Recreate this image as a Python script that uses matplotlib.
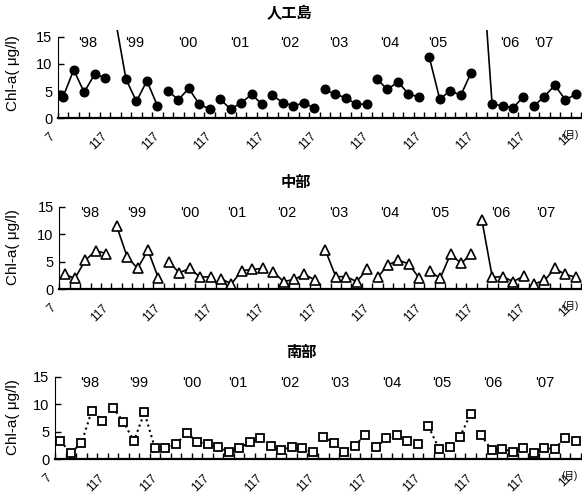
import numpy as np
import matplotlib.pyplot as plt

plt.rcParams['font.family'] = ['Liberation Sans', 'Noto Sans CJK JP', 'DejaVu Sans']

# sampling slots: 10 survey years x 5 samples, plotted at category centres
slots = np.arange(50) + 0.5
survey = np.repeat(np.arange(10), 5)

# 人工島 (one extra early sample at the very start; two blooms run off scale)
island_x = np.r_[0.2, slots]
island_grp = np.r_[0, survey]
island = [4.3,
          4.0, 8.9, 4.8, 8.1, 7.5,
          18.0, 7.2, 3.1, 6.9, 2.3,
          5.1, 3.4, 5.5, 2.6, 1.7,
          3.5, 1.7, 2.8, 4.4, 2.6,
          4.2, 2.9, 2.3, 2.8, 1.9,
          5.3, 4.4, 3.8, 2.6, 2.6,
          7.2, 5.3, 6.7, 4.5, 3.9,
          11.2, 3.5, 5.1, 4.2, 8.4,
          30.0, 2.6, 2.3, 1.9, 4.0,
          2.3, 4.0, 6.1, 3.4, 4.4]

# 中部
middle = [2.7, 2.0, 5.3, 7.0, 6.5,
          11.5, 5.9, 3.8, 7.1, 2.0,
          5.0, 3.0, 3.8, 2.2, 2.3,
          1.9, 1.0, 3.4, 3.6, 3.8,
          3.2, 1.4, 1.8, 2.7, 1.7,
          7.1, 2.3, 2.3, 1.4, 3.6,
          2.2, 4.4, 5.3, 4.6, 2.0,
          3.3, 2.0, 6.4, 4.7, 6.4,
          12.6, 2.2, 2.3, 1.4, 2.4,
          1.0, 1.6, 3.8, 2.7, 2.2]

# 南部
south = [3.3, 1.2, 2.9, 8.8, 7.0,
         9.4, 6.8, 3.3, 8.5, 2.0,
         2.0, 2.7, 4.8, 3.2, 2.7,
         2.2, 1.4, 2.0, 3.1, 3.8,
         2.5, 1.7, 2.2, 2.0, 1.3,
         4.1, 3.0, 1.3, 2.5, 4.4,
         2.2, 3.8, 4.4, 3.3, 2.7,
         6.0, 1.9, 2.2, 4.1, 8.2,
         4.4, 1.7, 1.9, 1.4, 2.0,
         1.1, 2.0, 1.9, 3.9, 3.3]

years = ["'98", "'99", "'00", "'01", "'02", "'03", "'04", "'05", "'06", "'07"]
month_labels = ['7'] + ['117'] * 9 + ['11']
month_label_pos = [-0.9, 4.1, 9.1, 14.1, 19.1, 24.1, 29.1, 34.1, 39.1, 44.1, 48.5]

panels = [
    dict(title='人工島', x=island_x, y=island, grp=island_grp,
         rect=[58 / 582, 1 - 118.3 / 495, 523 / 582, 88.1 / 495],
         title_xy=(290, 14), ylab_y=73,
         year_pos=[2.85, 7.36, 12.43, 17.4, 22.2, 26.8, 31.7, 36.3, 43.2, 46.4],
         style=dict(color='black', lw=1.2, ls='-', marker='o', ms=6.2,
                    mfc='black', mec='black')),
    dict(title='中部', x=slots, y=middle, grp=survey,
         rect=[59.3 / 582, 1 - 289.3 / 495, 521.7 / 582, 89.2 / 495],
         title_xy=(296, 183), ylab_y=247,
         year_pos=[2.94, 7.42, 12.53, 17.0, 21.8, 26.75, 31.7, 36.5, 42.3, 46.6],
         style=dict(color='black', lw=1.2, ls='-', marker='^', ms=7.5,
                    mfc='white', mec='black', mew=1.2)),
    dict(title='南部', x=slots, y=south, grp=survey,
         rect=[55 / 582, 1 - 459.3 / 495, 526 / 582, 89.2 / 495],
         title_xy=(301, 353), ylab_y=417,
         year_pos=[3.33, 7.92, 12.99, 17.4, 22.3, 27.1, 32.0, 36.8, 41.6, 46.6],
         style=dict(color='black', lw=1.5, ls=':', marker='s', ms=5.3,
                    mfc='white', mec='black', mew=1.3)),
]

fig = plt.figure(figsize=(5.82, 4.95), dpi=100)

for p in panels:
    ax = fig.add_axes(p['rect'])
    x = np.asarray(p['x'])
    y = np.asarray(p['y'])
    for g in range(10):
        m = p['grp'] == g
        ax.plot(x[m], y[m], **p['style'])

    ax.set_xlim(0, 50)
    ax.set_ylim(0, 16.2)
    ax.set_yticks([0, 5, 10, 15])
    ax.set_xticks(np.arange(0, 51))
    ax.set_xticklabels([])
    ax.tick_params(axis='y', direction='in', length=4, width=1, labelsize=10.5, pad=4)
    ax.tick_params(axis='x', direction='in', length=4, width=1)
    for s in ['top', 'right']:
        ax.spines[s].set_visible(False)
    ax.spines['left'].set_bounds(0, 15)
    ax.spines['bottom'].set_linewidth(1.6)
    ax.patch.set_alpha(0)

    for xp, lab in zip(p['year_pos'], years):
        ax.text(xp, 13.8, lab, ha='center', va='center', fontsize=10.5)

    tr = ax.get_xaxis_transform()
    for xp, lab in zip(month_label_pos, month_labels):
        ax.text(xp, -0.14, lab, transform=tr, rotation=45, rotation_mode='anchor',
                ha='right', va='top', fontsize=8.5, clip_on=False)
    ax.text(48.95, -0.19, '(月)', transform=tr, ha='center', va='center', fontsize=7)

    fig.text(p['title_xy'][0] / 582, 1 - p['title_xy'][1] / 495, p['title'],
             ha='center', va='center', fontsize=11, fontweight='bold')
    fig.text(13 / 582, 1 - p['ylab_y'] / 495, 'Chl-a( μg/l)', rotation=90,
             ha='center', va='center', fontsize=11)

fig.savefig('out.png', dpi=100)
